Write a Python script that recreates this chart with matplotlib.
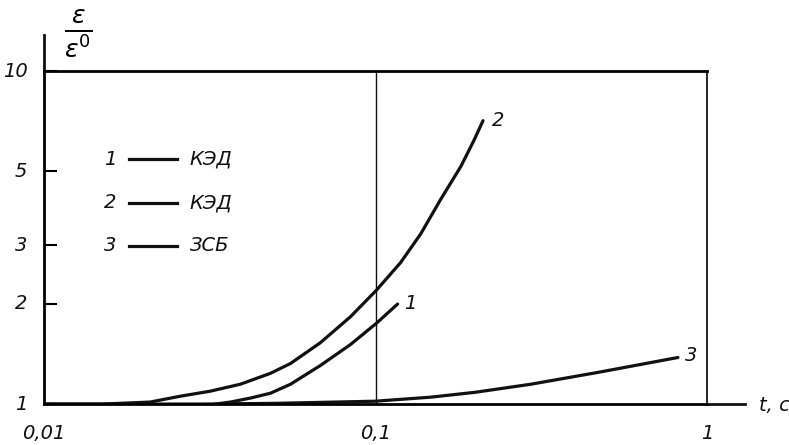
import matplotlib.pyplot as plt
from matplotlib.lines import Line2D

# curve data (t in seconds, eps/eps0)
t1 = [0.0329, 0.0365, 0.0419, 0.0482, 0.0554, 0.0682, 0.0840, 0.1007, 0.1166]
e1 = [1.0, 1.014, 1.042, 1.078, 1.147, 1.306, 1.509, 1.75, 1.998]

t2 = [0.010, 0.015, 0.0209, 0.0258, 0.0317, 0.0391, 0.0482, 0.0554, 0.0682,
      0.0840, 0.1007, 0.119, 0.137, 0.157, 0.181, 0.198, 0.211]
e2 = [1.0, 1.0, 1.014, 1.056, 1.093, 1.147, 1.237, 1.324, 1.529,
      1.829, 2.20, 2.66, 3.25, 4.11, 5.18, 6.19, 7.10]

t3 = [0.010, 0.030, 0.050, 0.100, 0.147, 0.200, 0.294, 0.469, 0.817]
e3 = [1.0, 1.0, 1.005, 1.02, 1.049, 1.085, 1.147, 1.245, 1.38]

legend_nums = ['1', '2', '3']
legend_names = ['КЭД', 'КЭД', 'ЗСБ']
yticks = [1, 2, 3, 5, 10]
ytick_labels = ['1', '2', '3', '5', '10']
xticks = [0.01, 0.1, 1]
xtick_labels = ['0,01', '0,1', '1']

plt.rcParams['font.family'] = ['DejaVu Sans']
fs = 14
ital = dict(fontsize=fs, fontstyle='italic', color='#111111')

fig = plt.figure(figsize=(7.89, 4.45), dpi=100)
ax = fig.add_axes([0.0558, 0.092, 0.8403, 0.748])
ax.set_xscale('log')
ax.set_yscale('log')
ax.set_xlim(0.01, 1)
ax.set_ylim(1, 10)

lw = 2.3
for t, e in [(t1, e1), (t2, e2), (t3, e3)]:
    ax.plot(t, e, color='#111111', lw=lw, solid_capstyle='round',
            solid_joinstyle='round')

ax.text(0.122, 2.0, '1', ha='left', va='center', **ital)
ax.text(0.224, 7.1, '2', ha='left', va='center', **ital)
ax.text(0.86, 1.40, '3', ha='left', va='center', **ital)

# thin grid line at 0.1
ax.axvline(0.1, color='#111111', lw=1.0)

for s in ['left', 'bottom', 'top']:
    ax.spines[s].set_linewidth(2.0)
ax.spines['right'].set_linewidth(1.2)

ax.minorticks_off()
ax.set_yticks(yticks)
ax.set_yticklabels([])
ax.set_xticks(xticks)
ax.set_xticklabels([])
ax.tick_params(axis='y', direction='in', length=9, width=1.5, left=True)
ax.tick_params(axis='x', length=0)

for v, lab in zip(yticks, ytick_labels):
    ax.text(-0.025, v, lab, transform=ax.get_yaxis_transform(),
            ha='right', va='center', **ital)
for v, lab in zip(xticks, xtick_labels):
    ax.text(v, -0.06, lab, transform=ax.get_xaxis_transform(),
            ha='center', va='top', **ital)

# extended axes lines
ax.add_line(Line2D([0, 0], [1, 1.11], transform=ax.transAxes,
                   color='#111111', lw=2.0, clip_on=False))
ax.add_line(Line2D([1, 1.057], [0, 0], transform=ax.transAxes,
                   color='#111111', lw=2.0, clip_on=False))

fig.text(0.962, 0.088, 't, c', ha='left', va='center', **ital)
fig.text(0.099, 0.925, r'$\frac{\varepsilon}{\varepsilon^{0}}$',
         ha='center', va='center', fontsize=26)

# in-plot legend
for i, (n, name) in enumerate(zip(legend_nums, legend_names)):
    y = 0.735 - i * 0.13
    ax.text(0.1, y, n, transform=ax.transAxes, ha='center', va='center', **ital)
    ax.add_line(Line2D([0.128, 0.2], [y, y], transform=ax.transAxes,
                       color='#111111', lw=lw))
    ax.text(0.22, y, name, transform=ax.transAxes, ha='left', va='center', **ital)

fig.savefig('out.png', dpi=100)
